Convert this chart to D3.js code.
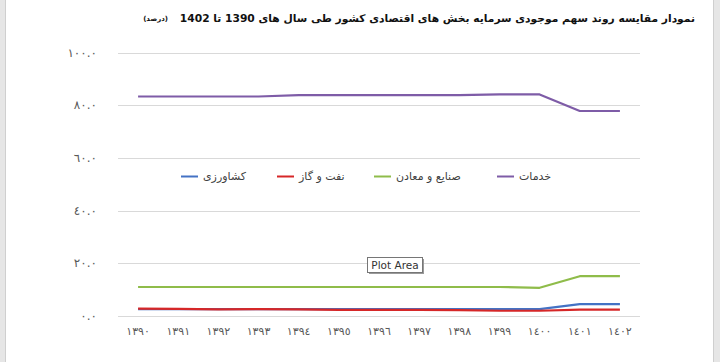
<!DOCTYPE html>
<html lang="fa">
<head>
<meta charset="UTF-8">
<title>سهم موجودی سرمایه</title>
<script src="https://d3js.org/d3.v7.min.js"></script>
<style>
    html, body { margin: 0; padding: 0; background: #fff; }
    svg { display: block; }
    text { font-family: "DejaVu Sans", Arial, sans-serif; }
</style>
</head>
<body>
<div id="chart"></div>
<script>
// data
const years = ["1390","1391","1392","1393","1394","1395","1396","1397","1398","1399","1400","1401","1402"];
const yTicks = [0, 20, 40, 60, 80, 100];

const keshavarzi = [2.6, 2.6, 2.6, 2.6, 2.6, 2.6, 2.6, 2.6, 2.6, 2.6, 2.6, 4.5, 4.5];
const naftGaz    = [2.8, 2.7, 2.5, 2.6, 2.5, 2.3, 2.3, 2.3, 2.2, 2.0, 2.0, 2.4, 2.4];
const sanaye     = [11.0, 11.0, 11.0, 11.0, 11.0, 11.0, 11.0, 11.0, 11.0, 11.0, 10.7, 15.1, 15.1];
const khadamat   = [83.3, 83.3, 83.3, 83.3, 83.8, 83.8, 83.8, 83.8, 83.8, 84.1, 84.1, 77.8, 77.8];

const seriesNames = ["کشاورزی", "نفت و گاز", "صنایع و معادن", "خدمات"];
const seriesColors = ["#4472c4", "#d62728", "#8fbc4a", "#7e5ca7"];
const seriesData = [keshavarzi, naftGaz, sanaye, khadamat];

const W = 720, H = 362;
const toFa = s => String(s).replace(/\d/g, d => "٠١٢٣٤٥٦٧٨٩"[d]);

const svg = d3.select("#chart").append("svg")
    .attr("width", W).attr("height", H);

// window frame strips
svg.append("rect").attr("x", 0).attr("y", 0).attr("width", 5).attr("height", H).attr("fill", "#e6e6e6");
svg.append("line").attr("x1", 5.5).attr("x2", 5.5).attr("y1", 0).attr("y2", H).attr("stroke", "#cfcfcf");
svg.append("rect").attr("x", 714).attr("y", 0).attr("width", 6).attr("height", H).attr("fill", "#e6e6e6");
svg.append("line").attr("x1", 713.5).attr("x2", 713.5).attr("y1", 0).attr("y2", H).attr("stroke", "#cfcfcf");

const x = d3.scaleBand().domain(years).range([118, 640]);
const y = d3.scaleLinear().domain([0, 100]).range([316, 52.5]);
const cx = d => x(d) + x.bandwidth() / 2;

// gridlines
svg.append("g").selectAll("line")
    .data(yTicks).enter().append("line")
    .attr("x1", 118).attr("x2", 640)
    .attr("y1", d => Math.round(y(d)) + 0.5).attr("y2", d => Math.round(y(d)) + 0.5)
    .attr("stroke", "#d9d9d9").attr("stroke-width", 1);

// y labels
svg.append("g").selectAll("text")
    .data(yTicks).enter().append("text")
    .attr("x", 97).attr("y", d => y(d) + 4)
    .attr("text-anchor", "end")
    .attr("font-size", 12).attr("fill", "#595959")
    .text(d => toFa(d.toFixed(1)));

// x labels
svg.append("g").selectAll("text")
    .data(years).enter().append("text")
    .attr("x", d => cx(d)).attr("y", 335)
    .attr("text-anchor", "middle")
    .attr("font-size", 11).attr("fill", "#595959")
    .text(d => toFa(d));

// lines (purple first so the low ones sit on top like the reference)
const line = d3.line().x((d, i) => cx(years[i])).y(d => y(d));
[3, 2, 0, 1].forEach(k => {
    svg.append("path")
        .datum(seriesData[k])
        .attr("fill", "none")
        .attr("stroke", seriesColors[k])
        .attr("stroke-width", 2.2)
        .attr("stroke-linejoin", "round")
        .attr("d", line);
});

// legend: line on the left, rtl text to its right
const legendX = [181, 277, 374, 497];
const legend = svg.append("g");
seriesNames.forEach((name, i) => {
    legend.append("line")
        .attr("x1", legendX[i]).attr("x2", legendX[i] + 17)
        .attr("y1", 176.5).attr("y2", 176.5)
        .attr("stroke", seriesColors[i]).attr("stroke-width", 2);
    legend.append("text")
        .attr("x", legendX[i] + 22).attr("y", 180)
        .attr("text-anchor", "end")
        .attr("direction", "rtl")
        .attr("font-size", 11).attr("fill", "#404040")
        .text(name);
});

// title
svg.append("text")
    .attr("x", 695).attr("y", 22)
    .attr("text-anchor", "start")
    .attr("direction", "rtl")
    .attr("font-size", 10.7).attr("font-weight", "bold").attr("fill", "#111")
    .text("نمودار مقایسه روند سهم موجودی سرمایه بخش های اقتصادی کشور طی سال های 1390 تا 1402");
svg.append("text")
    .attr("x", 168).attr("y", 21)
    .attr("text-anchor", "start")
    .attr("direction", "rtl")
    .attr("font-size", 7).attr("font-weight", "bold").attr("fill", "#111")
    .text("(درصد)");

// "Plot Area" tooltip
const tip = svg.append("g").attr("transform", "translate(367,257)");
tip.append("rect").attr("x", 2).attr("y", 2).attr("width", 55).attr("height", 15).attr("fill", "#9a9a9a");
tip.append("rect").attr("x", 0.5).attr("y", 0.5).attr("width", 55).attr("height", 15)
    .attr("fill", "#fff").attr("stroke", "#767676");
tip.append("text").attr("x", 28).attr("y", 12).attr("text-anchor", "middle")
    .attr("font-family", "Liberation Sans, Arial, sans-serif")
    .attr("font-size", 10.5).attr("fill", "#333").text("Plot Area");
</script>
</body>
</html>
